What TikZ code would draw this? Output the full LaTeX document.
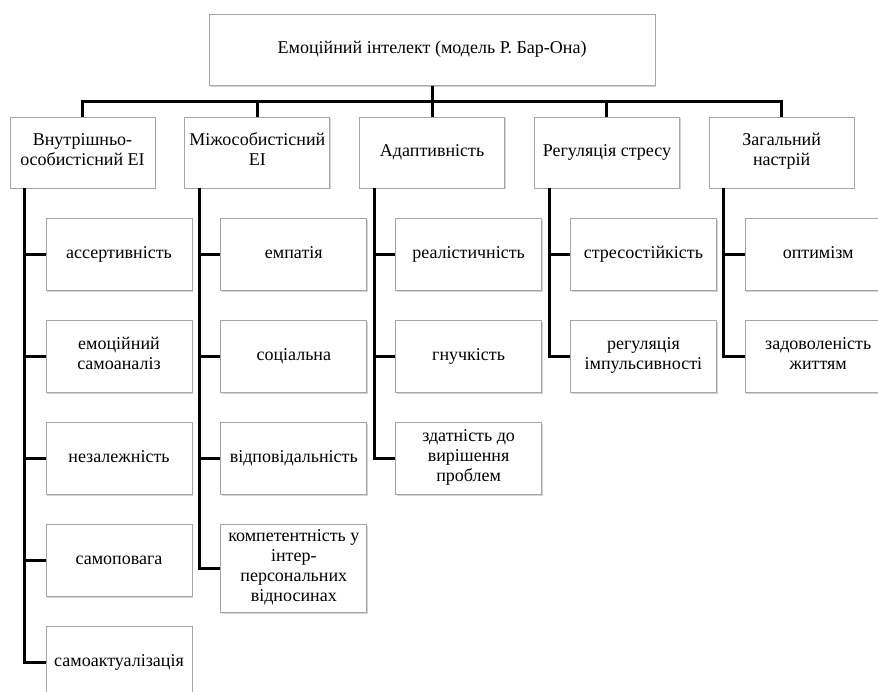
\documentclass[tikz,border=0pt]{standalone}
\usepackage{fontspec}
\setmainfont{Liberation Serif}
\usetikzlibrary{positioning,shadows}

\begin{document}
\begin{tikzpicture}[node distance=29pt,x=1pt,y=1pt]
      \tikzstyle{box}=[rectangle,draw=gray!70,fill=white,line width=0.8pt,align=center,inner xsep=1pt,inner ysep=5pt,
        font=\fontsize{18}{20}\selectfont,execute at begin node=\strut,execute at end node=\strut,
        drop shadow={shadow xshift=1.2pt,shadow yshift=-1.4pt,opacity=0.35,fill=gray}]
      \tikzstyle{grp}=[box,minimum width=145pt,minimum height=71pt]
      \tikzstyle{sub}=[box,minimum width=146pt,minimum height=72pt]
      \tikzstyle{ln}=[line width=3pt]
      \useasboundingbox (0,0) rectangle (878,-691);
      % level 1
      \node[grp] (intra) at (82.5,-152.5) {Внутрішньо-\\особистісний ЕІ};
      \node[grp,right=of intra] (inter) {Міжособистісний\\ЕІ};
      \node[grp,right=of inter] (adapt) {Адаптивність};
      \node[grp,right=of adapt] (stress) {Регуляція стресу};
      \node[grp,right=of stress] (mood) {Загальний\\настрій};
      \node[box,minimum width=446pt,minimum height=71pt,above=31pt of adapt] (ei) {Емоційний інтелект (модель Р. Бар-Она)};
      % level 2
      \node[sub,below right=30pt and 36pt of intra.south west] (assert) {ассертивність};
      \node[sub,below=of assert] (selfan) {емоційний\\самоаналіз};
      \node[sub,below=of selfan] (indep) {незалежність};
      \node[sub,below=of indep] (respect) {самоповага};
      \node[sub,below=of respect] (actual) {самоактуалізація};
      \node[sub,below right=30pt and 36pt of inter.south west] (empat) {емпатія};
      \node[sub,below=of empat] (social) {соціальна};
      \node[sub,below=of social] (resp) {відповідальність};
      \node[sub,below=of resp] (compet) {компетентність у\\інтер-\\персональних\\відносинах};
      \node[sub,below right=30pt and 36pt of adapt.south west] (real) {реалістичність};
      \node[sub,below=of real] (flex) {гнучкість};
      \node[sub,below=of flex] (solve) {здатність до\\вирішення\\проблем};
      \node[sub,below right=30pt and 36pt of stress.south west] (resist) {стресостійкість};
      \node[sub,below=of resist] (impuls) {регуляція\\імпульсивності};
      \node[sub,below right=30pt and 36pt of mood.south west] (optim) {оптимізм};
      \node[sub,below=of optim] (satisf) {задоволеність\\життям};
      % connectors
      \foreach \g in {intra,inter,adapt,stress,mood}
        \draw[ln] (ei.south) -- ++(0,-15.5) -| (\g.north);
      \foreach \p/\c in {intra/assert,intra/selfan,intra/indep,intra/respect,intra/actual,
                         inter/empat,inter/social,inter/resp,inter/compet,
                         adapt/real,adapt/flex,adapt/solve,
                         stress/resist,stress/impuls,mood/optim,mood/satisf}
        \draw[ln] ([xshift=15pt]\p.south west) |- (\c.west);
    \end{tikzpicture}
\end{document}
